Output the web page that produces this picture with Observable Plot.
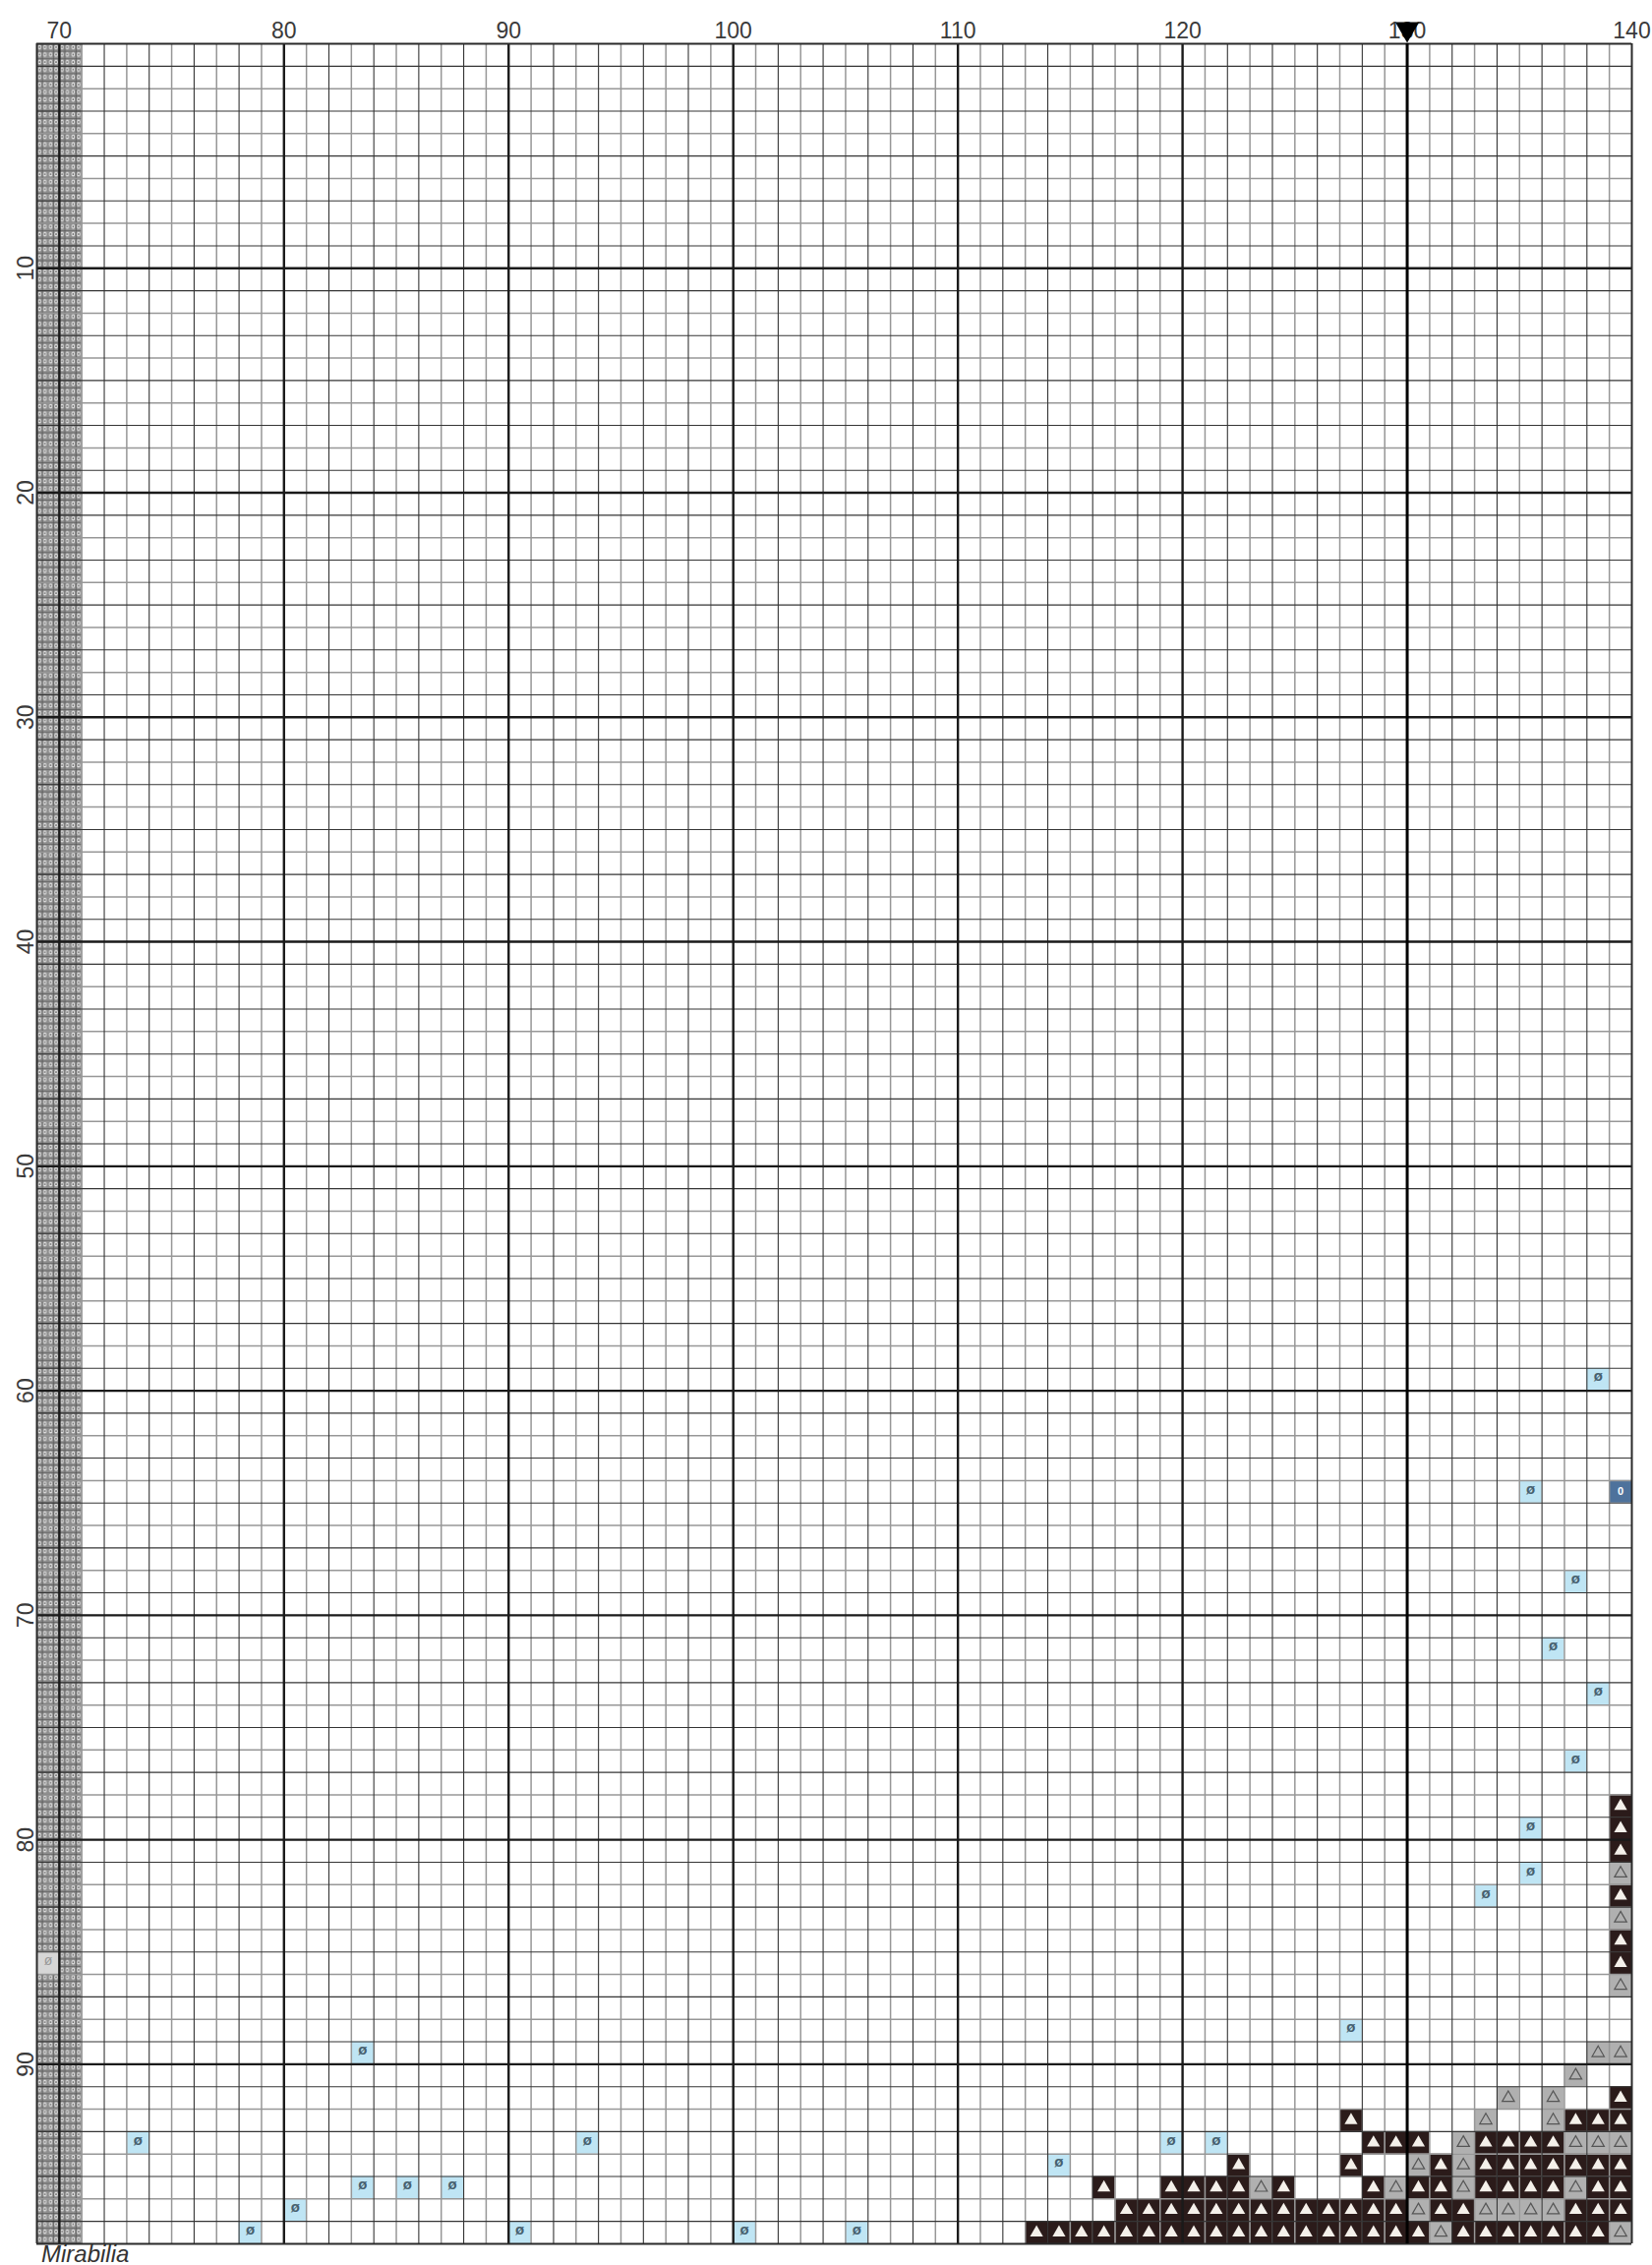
<!DOCTYPE html>
<html><head><meta charset="utf-8">
<script src="https://cdn.jsdelivr.net/npm/d3@7"></script>
<script src="https://cdn.jsdelivr.net/npm/@observablehq/plot@0.6"></script>
<style>
body{margin:0;background:#fff;}
#chart svg{display:block;}
#caption{margin-left:42px;font:italic 24px "Liberation Sans",Arial,sans-serif;line-height:18px;height:20px;color:#333;}
</style></head><body>
<div id="chart"></div>
<div id="caption">Mirabilia</div>
<script>
// ---- chart data (stitch cells: [column, row]) ----
const xTicks = [70, 80, 90, 100, 110, 120, 130, 140];
const yTicks = [10, 20, 30, 40, 50, 60, 70, 80, 90];
const firstCol = 69, lastCol = 140, rowCount = 98;
const overlapCols = [69, 70];
const centerCol = 130;

// dark brown stitches (white filled triangle), listed by row
const darkRows = [
  [78, [139]], [79, [139]], [80, [139]], [82, [139]], [84, [139]], [85, [139]], [91, [139]],
  [92, [127, 137, 138, 139]],
  [93, [128, 129, 130, 133, 134, 135, 136]],
  [94, [122, 127, 131, 133, 134, 135, 136, 137, 138, 139]],
  [95, [116, 119, 120, 121, 122, 124, 128, 130, 131, 133, 134, 135, 136, 138, 139]],
  [96, [117, 118, 119, 120, 121, 122, 123, 124, 125, 126, 127, 128, 129, 131, 132, 137, 138, 139]],
  [97, [113, 114, 115, 116, 117, 118, 119, 120, 121, 122, 123, 124, 125, 126, 127, 128, 129, 130,
        132, 133, 134, 135, 136, 137, 138]]
];
// grey stitches (outlined triangle), listed by row
const grayRows = [
  [81, [139]], [83, [139]], [86, [139]], [89, [138, 139]], [90, [137]],
  [91, [134, 136]], [92, [133, 136]], [93, [132, 137, 138, 139]], [94, [130, 132]],
  [95, [123, 129, 132, 137]], [96, [130, 133, 134, 135, 136]], [97, [131, 139]]
];
// light blue stitches
const lightBlue = [
  [138, 59], [135, 64], [137, 68], [136, 71], [138, 73], [137, 76], [135, 79], [135, 81],
  [133, 82], [127, 88], [83, 89], [73, 93], [93, 93], [119, 93], [121, 93], [114, 94],
  [83, 95], [85, 95], [87, 95], [80, 96], [78, 97], [90, 97], [100, 97], [105, 97]
];
// dark blue stitch
const darkBlue = [[139, 64]];
// stitch shown in the overlap columns
const overlapStitch = [[69, 85]];

// ---- build tables ----
const byRow = rows => rows.flatMap(([r, cols]) => cols.map(c => ({c, r})));
const pts = list => list.map(([c, r]) => ({c, r}));
const darkCells = byRow(darkRows);
const grayCells = byRow(grayRows);
const blueCells = pts(lightBlue);
const dblueCells = pts(darkBlue);
const overlapCells = pts(overlapStitch);

const vLines = d3.range(firstCol, lastCol + 1);
const hLines = d3.range(0, rowCount + 1);
const vKind = v => (v === firstCol || v === lastCol) ? "border" : v === centerCol ? "center" : v % 10 === 0 ? "major" : v % 2 === 0 ? "dark" : "light";
const hKind = v => (v === 0 || v === rowCount) ? "border" : v % 10 === 0 ? "major" : v % 2 === 1 ? "dark" : "light";
const lineStyle = {
  light: {stroke: "#979797", w: 1.5},
  dark: {stroke: "#353535", w: 1.1},
  major: {stroke: "#1a1a1a", w: 2.4},
  center: {stroke: "#000", w: 3},
  border: {stroke: "#2a2a2a", w: 2}
};
const kinds = ["light", "dark", "major", "border", "center"];

const cellRect = (data, fill, extra = {}) => Plot.rect(data, {x1: "c", x2: d => d.c + 1, y1: "r", y2: d => d.r + 1, fill, ...extra});
const mid = {x: d => d.c + 0.5, y: d => d.r + 0.5};

const gridMarks = kinds.flatMap(k => [
  Plot.ruleX(vLines.filter(v => vKind(v) === k),
    {x: d => d, y1: 0, y2: rowCount, stroke: lineStyle[k].stroke, strokeWidth: lineStyle[k].w}),
  Plot.ruleY(hLines.filter(v => hKind(v) === k),
    {y: d => d, x1: firstCol, x2: lastCol, stroke: lineStyle[k].stroke, strokeWidth: lineStyle[k].w})
]);

const chart = Plot.plot({
  width: 1680,
  height: 2283,
  marginLeft: 37, marginRight: 21, marginTop: 44, marginBottom: 2,
  x: {type: "linear", domain: [firstCol, lastCol]},
  y: {type: "linear", domain: [0, rowCount], reverse: true},
  style: {background: "#fff", fontFamily: "'Liberation Sans', Arial, sans-serif", overflow: "visible", color: "#3a3a3a"},
  marks: [
    Plot.rect(overlapCols, {x1: d => d, x2: d => d + 1, y1: 0, y2: rowCount, fill: "url(#overlapHatch)"}),
    cellRect(overlapCells, "#d6d6d6"),
    cellRect(blueCells, "#bfe5f4"),
    cellRect(dblueCells, "#4e729c"),
    cellRect(grayCells, "#b0b0b0"),
    cellRect(darkCells, "#2b1b1a"),
    ...gridMarks,
    Plot.dot(darkCells, {...mid, symbol: "triangle", r: 4.9, fill: "#f4f0ea", stroke: "none"}),
    Plot.dot(grayCells, {...mid, symbol: "triangle", r: 4.6, fill: "none", stroke: "#555", strokeWidth: 1.2}),
    Plot.text(blueCells, {...mid, text: () => "ø", fontSize: 15, fontWeight: "bold", fill: "#46606f", dy: -3}),
    Plot.text(overlapCells, {...mid, text: () => "ø", fontSize: 14, fill: "#999", dy: -3}),
    Plot.text(dblueCells, {...mid, text: () => "0", fontSize: 11, fontWeight: "bold", fill: "#fff"}),
    Plot.axisX({anchor: "top", ticks: xTicks, tickSize: 0, tickPadding: 6, fontSize: 23, label: null, fill: "#3a3a3a", tickFormat: d => String(d)}),
    Plot.axisY({anchor: "left", ticks: yTicks, tickSize: 0, tickPadding: 4, tickRotate: -90, fontSize: 23, label: null, fill: "#3a3a3a", tickFormat: d => String(d)}),
    Plot.dot([centerCol], {x: d => d, y: 0, symbol: "triangle", rotate: 180, r: 9, fill: "#000", stroke: "none", dy: -15})
  ]
});

const ns = "http://www.w3.org/2000/svg";
const defs = document.createElementNS(ns, "defs");
defs.innerHTML = `<pattern id="overlapHatch" patternUnits="userSpaceOnUse" x="37" y="44" width="11.42" height="7.607">
  <rect width="11.42" height="7.607" fill="#8e8e8e"/>
  <ellipse cx="3.2" cy="3.8" rx="1.8" ry="2.4" fill="#e2e2e2"/>
  <ellipse cx="8.6" cy="3.8" rx="1.8" ry="2.4" fill="#e2e2e2"/>
  <circle cx="3.2" cy="3.8" r="0.8" fill="#444"/>
  <circle cx="8.6" cy="3.8" r="0.8" fill="#444"/>
  <rect x="5.6" y="0" width="0.7" height="7.607" fill="#555"/>
  <rect x="0" y="0" width="11.42" height="0.6" fill="#555"/>
</pattern>`;
chart.insertBefore(defs, chart.firstChild);
document.getElementById("chart").appendChild(chart);
</script>
</body></html>
